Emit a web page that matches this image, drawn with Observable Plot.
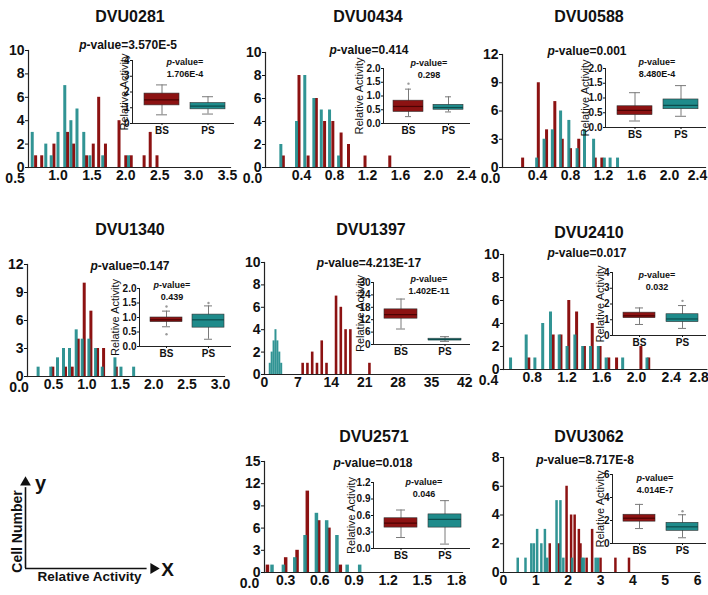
<!DOCTYPE html>
<html>
<head>
<meta charset="utf-8">
<script src="https://cdn.jsdelivr.net/npm/d3@7"></script>
<script src="https://cdn.jsdelivr.net/npm/@observablehq/plot@0.6"></script>
<style>
html,body{margin:0;padding:0;background:#fff;}
#fig{position:relative;width:708px;height:595px;overflow:hidden;background:#fff;font-family:"Liberation Sans",Arial,Helvetica,sans-serif;color:#111;}
.lbl{position:absolute;transform:translate(-50%,-50%);white-space:nowrap;font-weight:bold;line-height:1;}
.title{font-size:16px;}
.pm{font-size:12px;}
.pi{font-size:9px;}
</style>
</head>
<body>
<div id="fig"></div>
<script>
// ---------------- DATA ----------------
const genes = ["DVU0281","DVU0434","DVU0588","DVU1340","DVU1397","DVU2410","DVU2571","DVU3062"];
const pMain = ["3.570E-5","0.414","0.001","0.147","4.213E-17","0.017","0.018","8.717E-8"];
const pBox  = ["1.706E-4","0.298","8.480E-4","0.439","1.402E-11","0.032","0.046","4.014E-7"];

// histogram bars: relative activity value and cell number; BS (red), PS (teal)
const bsX_0281 = [0.67,0.76,0.94,1.14,1.23,1.42,1.52,1.60,1.70,1.90,2.00,2.08,2.27,2.36,2.46];
const bsN_0281 = [1,1,2,3,2,1,2,6,2,4,1,1,1,3,1];
const psX_0281 = [0.62,0.82,0.90,1.00,1.10,1.19,1.28,1.38,1.47,1.66,2.04];
const psN_0281 = [3,2,1,3,7,4,5,3,1,1,1];

const bsX_0434 = [0.18,0.37,0.48,0.58,0.68,0.78,0.88,0.97,1.17,1.47];
const bsN_0434 = [1,8,1,6,4,4,3,2,1,1];
const psX_0434 = [0.15,0.34,0.44,0.55,0.64,0.74,0.85];
const psN_0434 = [2,4,8,6,5,5,1];

const bsX_0588 = [0.22,0.41,0.51,0.61,0.70,0.80,0.90,1.10,1.18];
const bsN_0588 = [1,9,4,7,3,2,3,1,1];
const psX_0588 = [0.39,0.48,0.58,0.68,0.78,0.88,0.97,1.08,1.21,1.28,1.37];
const psN_0588 = [1,3,4,6,5,2,4,3,1,1,1];

const bsX_1340 = [0.49,0.68,0.78,0.87,0.96,1.06,1.16,1.25,1.44];
const bsN_1340 = [1,1,1,4,10,7,3,3,1];
const psX_1340 = [0.27,0.46,0.56,0.65,0.74,0.84,0.93,1.03,1.13,1.23,1.42,1.51,1.70];
const psN_1340 = [1,1,2,3,3,5,4,4,3,1,2,1,1];

const bsX_1397 = [8,9,10,11,12,13,15,16,17,18,22];
const bsN_1397 = [1,1,2,1,3,1,7,6,4,4,1];
const psX_1397 = [1.1,1.5,1.9,2.3,2.7,3.1,3.5];
const psN_1397 = [1,2,3,4,3,2,1];

const bsX_2410 = [0.76,1.04,1.13,1.22,1.31,1.40,1.49,1.58,1.68,1.77,2.05,2.14];
const bsN_2410 = [1,3,3,6,5,2,4,2,1,1,2,1];
const psX_2410 = [0.55,0.73,0.83,0.92,1.01,1.11,1.20,1.29,1.38,1.47,1.56,1.65,1.84,2.12];
const psN_2410 = [1,3,1,4,5,3,2,3,2,2,2,1,1,1];

const bsX_2571 = [0.14,0.30,0.40,0.49,0.59,0.68,0.78];
const bsN_2571 = [1,2,3,11,7,6,1];
const psX_2571 = [0.18,0.28,0.38,0.47,0.57,0.66,0.75,0.84,0.95];
const psN_2571 = [1,1,2,5,8,7,5,1,1];

const bsX_3062 = [1.43,1.71,1.95,2.09,2.20,2.33,2.38,2.57,2.74,3.00,3.46,3.88];
const bsN_3062 = [2,2,6,4,4,3,2,1,3,1,1,1];
const psX_3062 = [0.44,0.68,0.86,0.94,1.04,1.17,1.28,1.35,1.64,1.76,1.85,2.12,2.43,2.48,2.85,2.92];
const psN_3062 = [1,1,2,2,3,2,3,1,5,5,1,1,1,1,1,1];

// box plot summaries [whisker low, Q1, median, Q3, whisker high]
const bsBox = [[0.55,1.15,1.5,1.9,2.45],[0.25,0.42,0.62,0.83,1.25],[0.22,0.42,0.58,0.72,1.18],[0.68,0.84,0.92,1.0,1.22],
               [7.5,12.5,14.5,17,22],[0.7,1.1,1.25,1.45,1.75],[0.2,0.38,0.46,0.55,0.7],[1.3,1.9,2.2,2.5,3.4]];
const psBox = [[0.6,0.9,1.1,1.3,1.7],[0.42,0.5,0.58,0.68,0.97],[0.38,0.62,0.75,0.95,1.42],[0.25,0.65,0.92,1.1,1.4],
               [1.5,2.0,2.4,2.8,3.8],[0.45,0.85,1.05,1.35,1.9],[0.08,0.38,0.53,0.62,0.87],[0.5,1.1,1.45,1.8,2.5]];
const bsOut = [[],[1.45],[],[0.42,1.38],[],[],[],[]];
const psOut = [[],[],[],[1.5],[],[2.2],[],[2.8]];

// tick labels
const xTicks = [[0.5,1,1.5,2,2.5,3,3.5],[0,0.4,0.8,1.2,1.6,2,2.4],[0,0.4,0.8,1.2,1.6,2,2.4],[0,0.5,1,1.5,2,2.5,3],
                [0,7,14,21,28,35,42],[0.4,0.8,1.2,1.6,2,2.4,2.8],[0,0.3,0.6,0.9,1.2,1.5,1.8],[0,1,2,3,4,5,6]];
const xFmt = [".1f",".1f",".1f",".1f","d",".1f",".1f","d"];
const yTicks = [[0,2,4,6,8,10],[0,2,4,6,8,10],[0,3,6,9,12],[0,3,6,9,12],[0,2,4,6,8,10],[0,2,4,6,8,10],[0,3,6,9,12,15],[0,2,4,6,8]];
const boxTicks = [[0,1,2,3,4],[0,0.5,1,1.5,2],[0,0.5,1,1.5,2],[0,0.5,1,1.5,2],[0,6,12,18,24,30],[0,1,2,3,4],[0,0.3,0.6,0.9,1.2],[0,2,4,6]];
const boxFmt = ["d",".1f",".1f",".1f","d","d",".1f","d"];

const bsX = [bsX_0281,bsX_0434,bsX_0588,bsX_1340,bsX_1397,bsX_2410,bsX_2571,bsX_3062];
const bsN = [bsN_0281,bsN_0434,bsN_0588,bsN_1340,bsN_1397,bsN_2410,bsN_2571,bsN_3062];
const psX = [psX_0281,psX_0434,psX_0588,psX_1340,psX_1397,psX_2410,psX_2571,psX_3062];
const psN = [psN_0281,psN_0434,psN_0588,psN_1340,psN_1397,psN_2410,psN_2571,psN_3062];

// ---------------- LAYOUT ----------------
const histLayout = [
  {x0:28,   x1:230,   yTop:50,  yBot:167, dom:[0.565,3.544], dx:-9,  fdy:3, ldx:0,  bw:3},
  {x0:265,  x1:469,   yTop:52,  yBot:167, dom:[-0.036,2.436], dx:-16, fdy:3, ldx:0,  bw:3},
  {x0:502,  x1:705,   yTop:54,  yBot:167, dom:[-0.024,2.436], dx:-14, fdy:3, ldx:-5, bw:3},
  {x0:27,   x1:224,   yTop:264, yBot:376, dom:[0.111,3.06], dx:-1,  fdy:3, ldx:0,  bw:3},
  {x0:263.5,x1:468.6, yTop:262, yBot:374, dom:[0,43],       dx:0,   fdy:0, ldx:0,  bw:2.6, bwp:2},
  {x0:502.7,x1:706,   yTop:254, yBot:369, dom:[0.469,2.808], dx:-9,  fdy:3, ldx:-7, bw:3},
  {x0:264,  x1:462,   yTop:461, yBot:572, dom:[0.114,1.853], dx:-2,  fdy:3, ldx:0,  bw:3.5},
  {x0:503,  x1:699,   yTop:457, yBot:572, dom:[0,6.06],     dx:0,   fdy:0, ldx:0,  bw:2.5}
];
const titlePos = [[130,17],[368,17],[589,17],[130,230],[371,230],[589,233],[374,437],[589,437]];
const pMainPos = [[128,45],[369,50],[587,51],[130,266],[369,263],[587,253],[373,463],[585,460]];
const boxLayout = [
  {x0:132, x1:233, yTop:60,  yBot:123, ld:-8,  p:[185,62]},
  {x0:383, x1:469, yTop:68,  yBot:123, ld:-24, p:[429,63]},
  {x0:605, x1:705, yTop:68,  yBot:127, ld:-20, p:[657,62]},
  {x0:139, x1:230, yTop:288, yBot:346, ld:-24, p:[172,285]},
  {x0:373, x1:469, yTop:282, yBot:344, ld:-13, p:[429,279]},
  {x0:612, x1:705, yTop:272, yBot:335, ld:-12, p:[657,275]},
  {x0:373, x1:469, yTop:482, yBot:548, ld:-22, p:[424,482]},
  {x0:612, x1:705, yTop:474, yBot:543, ld:-12, p:[655,478]}
];

const RED = "#8c1212", TEAL = "#1f8b8b";
const FONT = '"Liberation Sans", Arial, Helvetica, sans-serif';
const fig = document.getElementById("fig");

function lbl(cls, html, cx, cy) {
  const d = document.createElement("div");
  d.className = "lbl " + cls;
  d.innerHTML = html;
  d.style.left = cx + "px";
  d.style.top = cy + "px";
  fig.appendChild(d);
}
function place(svg, left, top) {
  svg.style.position = "absolute";
  svg.style.left = left + "px";
  svg.style.top = top + "px";
  fig.appendChild(svg);
}

function hist(i) {
  const L = histLayout[i];
  const ML = 30, MR = 2, MT = 6, MB = 22;
  const bs = bsX[i].map((x, k) => ({x, n: bsN[i][k]}));
  const ps = psX[i].map((x, k) => ({x, n: psN[i][k]}));
  const yt = yTicks[i], xt = xTicks[i], fmt = d3.format(xFmt[i]);
  const n = xt.length;
  const svg = Plot.plot({
    width: L.x1 - L.x0 + ML + MR,
    height: L.yBot - L.yTop + MT + MB,
    marginLeft: ML, marginRight: MR, marginTop: MT, marginBottom: MB,
    style: {overflow: "visible", background: "transparent", fontFamily: FONT, fontSize: "14px", fontWeight: "bold", color: "#111"},
    x: {domain: L.dom},
    y: {domain: [0, yt[yt.length - 1]]},
    marks: [
      Plot.ruleX(bs, {x: "x", y1: 0, y2: "n", stroke: RED, strokeWidth: L.bw}),
      Plot.ruleX(ps, {x: "x", y1: 0, y2: "n", stroke: TEAL, strokeWidth: L.bwp || L.bw, strokeOpacity: 0.92}),
      Plot.frame({anchor: "left", stroke: "#222", strokeWidth: 1.2}),
      Plot.frame({anchor: "bottom", stroke: "#222", strokeWidth: 1.2}),
      Plot.axisY(yt, {tickSize: 3, tickPadding: 1, label: null}),
      Plot.axisX(xt.slice(1, n - 1), {tickSize: 0, tickPadding: 3, tickFormat: fmt, label: null}),
      Plot.axisX(xt.slice(0, 1), {tickSize: 0, tickPadding: 3, tickFormat: fmt, label: null, dx: L.dx, dy: L.fdy}),
      Plot.axisX(xt.slice(n - 1), {tickSize: 0, tickPadding: 3, tickFormat: fmt, label: null, dx: L.ldx})
    ]
  });
  place(svg, L.x0 - ML, L.yTop - MT);
}

function inset(i) {
  const I = boxLayout[i];
  const ML = 34, MR = 2, MT = 5, MB = 16;
  const rows = [
    {g: "BS", s: bsBox[i], fill: RED, med: "#4d0303"},
    {g: "PS", s: psBox[i], fill: TEAL, med: "#0c4d4d"}
  ].map(d => ({g: d.g, lo: d.s[0], q1: d.s[1], md: d.s[2], q3: d.s[3], hi: d.s[4], fill: d.fill, med: d.med}));
  const outs = [...bsOut[i].map(v => ({g: "BS", v})), ...psOut[i].map(v => ({g: "PS", v}))];
  const yt = boxTicks[i];
  const marks = [];
  for (const r of rows) {
    marks.push(
      Plot.ruleX([r], {x: "g", y1: "lo", y2: "hi", stroke: "#7a7a7a", strokeWidth: 1}),
      Plot.tickY([r], {x: "g", y: "lo", stroke: "#7a7a7a", insetLeft: 12, insetRight: 12}),
      Plot.tickY([r], {x: "g", y: "hi", stroke: "#7a7a7a", insetLeft: 12, insetRight: 12}),
      Plot.barY([r], {x: "g", y1: "q1", y2: "q3", fill: r.fill, stroke: "#333", strokeWidth: 0.6}),
      Plot.tickY([r], {x: "g", y: "md", stroke: r.med, strokeWidth: 1.2})
    );
  }
  marks.push(
    Plot.dot(outs, {x: "g", y: "v", r: 1.2, fill: "#999"}),
    Plot.frame({anchor: "left", stroke: "#222"}),
    Plot.frame({anchor: "bottom", stroke: "#222"}),
    Plot.axisY(yt, {tickSize: 2, tickPadding: 1, label: null, tickFormat: d3.format(boxFmt[i])}),
    Plot.axisX({tickSize: 2, tickPadding: 1, label: null}),
    Plot.text(["Relative Activity"], {text: d => d, frameAnchor: "left", textAnchor: "middle", rotate: -90, dx: I.ld, fontSize: 11, fontWeight: "normal"})
  );
  const svg = Plot.plot({
    width: I.x1 - I.x0 + ML + MR,
    height: I.yBot - I.yTop + MT + MB,
    marginLeft: ML, marginRight: MR, marginTop: MT, marginBottom: MB,
    style: {overflow: "visible", background: "transparent", fontFamily: FONT, fontSize: "10px", fontWeight: "bold", color: "#111"},
    x: {type: "band", domain: ["BS", "PS"], paddingInner: 0.25, paddingOuter: 0.2, align: 0.6},
    y: {domain: [0, yt[yt.length - 1]]},
    marks
  });
  place(svg, I.x0 - ML, I.yTop - MT);
  lbl("pi", "<i>p</i>-value=", I.p[0], I.p[1]);
  lbl("pi", pBox[i], I.p[0], I.p[1] + 12);
}

function schematic() {
  const svg = Plot.plot({
    width: 180, height: 122,
    marginLeft: 25, marginRight: 27, marginTop: 12, marginBottom: 24,
    style: {overflow: "visible", background: "transparent", fontFamily: FONT, fontSize: "14px", fontWeight: "bold", color: "#111"},
    x: {domain: [0, 1], axis: null},
    y: {domain: [0, 1], axis: null},
    marks: [
      Plot.ruleX([0], {y1: 0, y2: 0.94, stroke: "#111", strokeWidth: 1.6}),
      Plot.ruleY([0], {x1: 0, x2: 0.95, stroke: "#111", strokeWidth: 1.6}),
      Plot.dot([0], {x: 0, y: 1, symbol: "triangle", r: 4, fill: "#111", stroke: "none"}),
      Plot.dot([0], {x: 1, y: 0, symbol: "triangle", r: 4, fill: "#111", stroke: "none", rotate: 90}),
      Plot.text(["y"], {text: d => d, x: 0, y: 1, dx: 15, dy: 1, fontSize: 20}),
      Plot.text(["X"], {text: d => d, x: 1, y: 0, dx: 14, dy: 1, fontSize: 19}),
      Plot.text(["Cell Number"], {text: d => d, frameAnchor: "left", textAnchor: "middle", rotate: -90, dx: -8, dy: 6, fontSize: 14}),
      Plot.text(["Relative Activity"], {text: d => d, frameAnchor: "bottom", dy: 12, fontSize: 13.5})
    ]
  });
  place(svg, 0, 470);
}

for (let i = 0; i < genes.length; i++) {
  hist(i);
  inset(i);
  lbl("title", genes[i], titlePos[i][0], titlePos[i][1]);
  lbl("pm", "<i>p</i>-value=" + pMain[i], pMainPos[i][0], pMainPos[i][1]);
}
schematic();
</script>
</body>
</html>
